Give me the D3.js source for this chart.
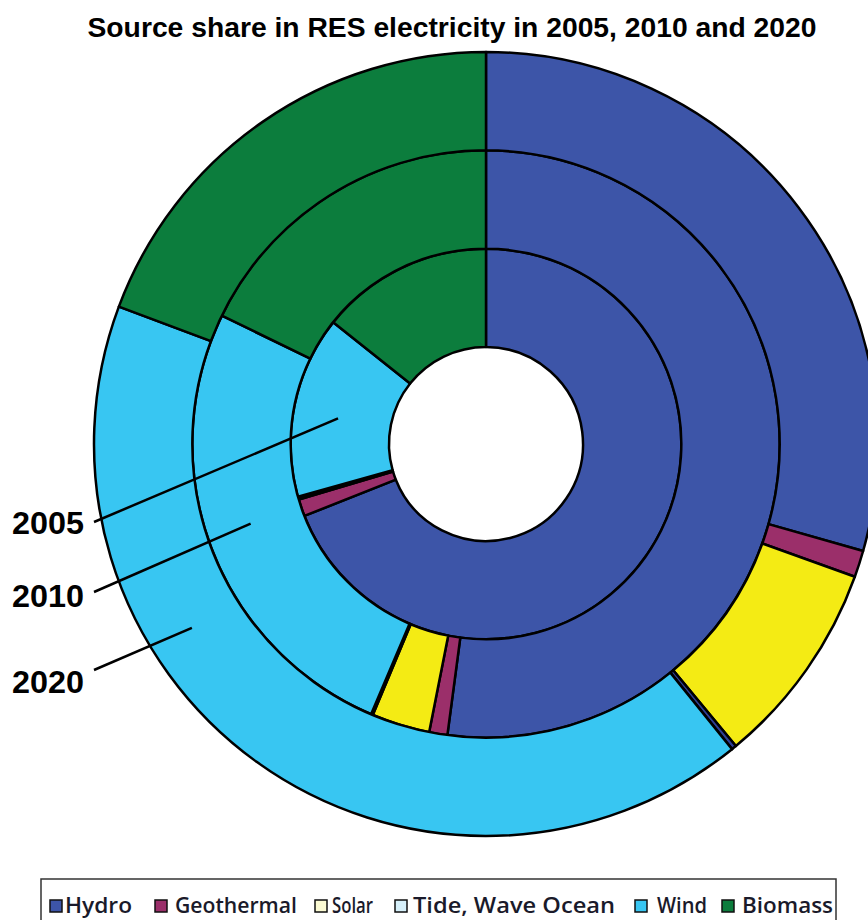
<!DOCTYPE html>
<html>
<head>
<meta charset="utf-8">
<script src="https://cdn.jsdelivr.net/npm/d3@7"></script>
<style>
  html, body { margin: 0; padding: 0; background: #fff; }
  svg { display: block; }
</style>
</head>
<body>
<svg id="chart" width="868" height="920"></svg>
<script>
// Share of each renewable source in RES electricity (%), per year
const years = ["2005", "2010", "2020"];
const sources = ["Hydro", "Geothermal", "Solar", "Tide, Wave Ocean", "Wind", "Biomass"];
const share2005 = [69.0, 1.4, 0.15, 0.1, 15.05, 14.3];
const share2010 = [52.1, 1.0, 3.2, 0.1, 25.8, 17.8];
const share2020 = [29.4, 1.1, 8.5, 0.2, 41.5, 19.3];
const shares = [share2005, share2010, share2020];

// Slice fills and legend swatch fills
const sliceColors = ["#3d55a8", "#9b2f6a", "#f4eb14", "#2f3f94", "#38c6f2", "#0c7d3d"];
const swatchColors = ["#3d55a8", "#9b2f6a", "#fbfad2", "#d6f0fa", "#38c6f2", "#0c7d3d"];

const svg = d3.select("#chart");
const cx = 486, cy = 444;

const fill = d3.scaleOrdinal().domain(sources).range(sliceColors);
const swatch = d3.scaleOrdinal().domain(sources).range(swatchColors);
// ring index -> radius (hole, then one ring per year)
const radius = d3.scaleLinear().domain([0, years.length]).range([97, 392]);

const pie = d3.pie().sort(null).value(d => d.value);

const g = svg.append("g").attr("transform", `translate(${cx},${cy})`);

years.forEach((year, i) => {
  const arc = d3.arc().innerRadius(radius(i)).outerRadius(radius(i + 1));
  const data = shares[i].map((v, k) => ({ source: sources[k], value: v }));
  g.append("g").attr("class", "ring ring-" + year)
    .selectAll("path")
    .data(pie(data))
    .join("path")
    .attr("d", arc)
    .attr("fill", d => fill(d.data.source))
    .attr("stroke", "#000")
    .attr("stroke-width", 2.5)
    .attr("stroke-linejoin", "round");
});

// Title
svg.append("text")
  .attr("x", 452).attr("y", 37)
  .attr("text-anchor", "middle")
  .attr("font-family", "'Liberation Sans Narrow', 'Arial Narrow', 'Liberation Sans', sans-serif")
  .attr("font-weight", "bold")
  .attr("font-size", 27)
  .attr("textLength", 729)
  .attr("lengthAdjust", "spacingAndGlyphs")
  .text("Source share in RES electricity in 2005, 2010 and 2020");

// Year labels with leader lines into the matching ring
const labelBaselines = [534, 607, 693];
const lineStarts = [522, 592, 670];
const pointerAngles = [279.8, 251.3, 238.0];
years.forEach((year, i) => {
  const a = pointerAngles[i] * Math.PI / 180;
  const r = (radius(i) + radius(i + 1)) / 2 + 4;
  const ex = cx + r * Math.sin(a), ey = cy - r * Math.cos(a);
  svg.append("line")
    .attr("x1", 94).attr("y1", lineStarts[i])
    .attr("x2", ex).attr("y2", ey)
    .attr("stroke", "#000").attr("stroke-width", 2.5);
  svg.append("text")
    .attr("x", 12).attr("y", labelBaselines[i])
    .attr("font-family", "'Liberation Sans', Arial, sans-serif")
    .attr("font-weight", "bold")
    .attr("font-size", 31)
    .attr("textLength", 72)
    .attr("lengthAdjust", "spacingAndGlyphs")
    .text(year);
});

// Legend
const legend = svg.append("g").attr("class", "legend");
legend.append("rect")
  .attr("x", 41).attr("y", 879)
  .attr("width", 795).attr("height", 60)
  .attr("fill", "#fff").attr("stroke", "#333").attr("stroke-width", 1.5);

const swatchX = [50, 155, 315, 395, 635, 722];
const labelX = [65, 175, 332, 413, 657, 742];
const labelW = [67, 122, 41, 202, 50, 91];
sources.forEach((s, k) => {
  legend.append("rect")
    .attr("x", swatchX[k]).attr("y", 900)
    .attr("width", 12).attr("height", 12)
    .attr("fill", swatch(s))
    .attr("stroke", "#111").attr("stroke-width", 1.5);
  legend.append("text")
    .attr("x", labelX[k]).attr("y", 913)
    .attr("font-family", "'Open Sans', 'Noto Sans', sans-serif")
    .attr("font-size", 22)
    .attr("font-weight", 600)
    .attr("fill", "#1a1a2a")
    .attr("textLength", labelW[k])
    .attr("lengthAdjust", "spacingAndGlyphs")
    .text(s);
});
</script>
</body>
</html>
